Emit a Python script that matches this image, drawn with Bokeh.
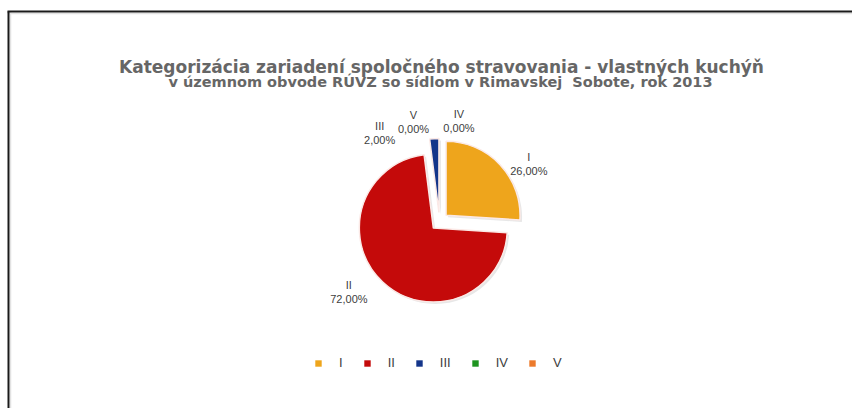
import numpy as np
from bokeh.plotting import figure
from bokeh.models import Range1d, Legend, LegendItem, Label
from bokeh.core.properties import value
from bokeh.embed import file_html
from bokeh.resources import INLINE

# ---- data ----
categories = ["I", "II", "III", "IV", "V"]
shares = [26.0, 72.0, 2.0, 0.0, 0.0]
colors = ["#EEA51C", "#C40A0A", "#14358A", "#1E9420", "#EC7A2C"]
title_text = "Kategorizácia zariadení spoločného stravovania - vlastných kuchýň"
subtitle_text = "v územnom obvode RÚVZ so sídlom v Rimavskej\u00a0 Sobote, rok 2013"

# ---- layout parameters (pixels; data units == page pixels, y measured upward) ----
PAGE_H = 416
W, H = 852, 408
FONT = "Liberation Sans"
TFONT = "DejaVu Sans"
cx, cy = 439, PAGE_H - 221          # pie centre
R = 74
EXPLODE = 9
label_angle = [32.6, -142.0, 124.0, 79.0, 104.6]   # degrees, where labels sit
label_dist = [106, 115, 107, 102, 103]

p = figure(width=W, height=H, x_range=Range1d(0, W),
           y_range=Range1d(PAGE_H - H, PAGE_H),
           output_backend="svg", toolbar_location=None, min_border=0,
           x_axis_type=None, y_axis_type=None)
p.outline_line_color = None
p.grid.visible = False
p.background_fill_color = "white"
p.border_fill_color = "white"

# window-like frame (top and left edges)
p.line([7, W], [PAGE_H - 13, PAGE_H - 13], line_color="#e2e2e2", line_width=1.5)
p.line([10, 10], [0, PAGE_H - 11], line_color="#e2e2e2", line_width=1.5)
p.line([7, W], [PAGE_H - 11, PAGE_H - 11], line_color="#1a1a1a", line_width=2)
p.line([8, 8], [0, PAGE_H - 11], line_color="#1a1a1a", line_width=2)

# pie slices
total = sum(shares)
cum = 0.0
for cat, s, col in zip(categories, shares, colors):
    frac = s / total
    start = 90 - 360 * cum
    end = 90 - 360 * (cum + frac)
    cum += frac
    if frac <= 0:
        continue
    mid = np.radians((start + end) / 2)
    x0 = cx + EXPLODE * np.cos(mid)
    y0 = cy + EXPLODE * np.sin(mid)
    # soft shadow
    p.wedge(x=[x0 + 2], y=[y0 - 2], radius=R, start_angle=np.radians(start),
            end_angle=np.radians(end), direction="clock",
            fill_color="#bbbbbb", fill_alpha=0.35, line_color=None)
    p.wedge(x=[x0], y=[y0], radius=R, start_angle=np.radians(start),
            end_angle=np.radians(end), direction="clock", fill_color=col,
            line_color="#fbe9e6", line_width=1.5)

# data labels
lx, ly, lt = [], [], []
for cat, s, a, d in zip(categories, shares, label_angle, label_dist):
    lx.append(cx + d * np.cos(np.radians(a)))
    ly.append(cy + d * np.sin(np.radians(a)))
    lt.append(f"{cat}\n{s:.2f}%".replace(".", ","))
p.text(x=lx, y=ly, text=lt, text_align="center", text_baseline="middle",
       text_font=value(FONT), text_font_size="11px", text_color="#404040",
       text_line_height=1.15)

# titles
p.add_layout(Label(x=441, y=PAGE_H - 66, text=title_text, text_align="center",
                   text_baseline="alphabetic", text_font=TFONT, text_font_size="17px",
                   text_font_style="bold", text_color="#666666"))
p.add_layout(Label(x=440, y=PAGE_H - 81, text=subtitle_text, text_align="center",
                   text_baseline="alphabetic", text_font=TFONT, text_font_size="14.5px",
                   text_font_style="bold", text_color="#666666"))

# legend
items = []
for cat, col in zip(categories, colors):
    r = p.rect(x=[np.nan], y=[np.nan], width=1, height=1, fill_color=col, line_color=None)
    items.append(LegendItem(label=cat, renderers=[r]))
legend = Legend(items=items, orientation="horizontal", location=(314, 46 - (PAGE_H - H)),
                glyph_width=8, glyph_height=8, label_standoff=17, spacing=20,
                label_width=0, padding=0, margin=0, border_line_color=None,
                background_fill_alpha=0, label_text_font=FONT,
                label_text_font_size="13px", label_text_color="#404040",
                label_height=14)
p.add_layout(legend, "center")

open("out.html", "w").write(file_html(p, INLINE))
